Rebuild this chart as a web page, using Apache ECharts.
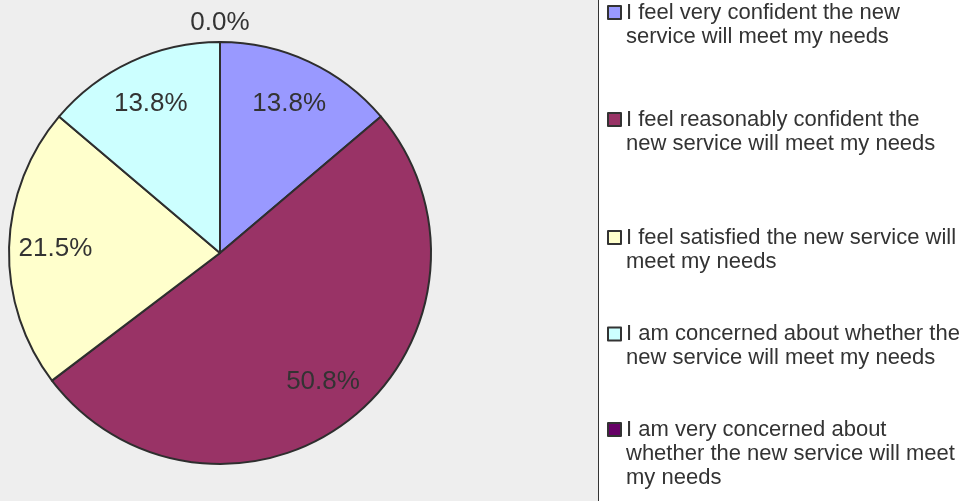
<!DOCTYPE html>
<html>
<head>
<meta charset="utf-8">
<script src="https://cdn.jsdelivr.net/npm/echarts@6/dist/echarts.min.js"></script>
<style>
  html, body { margin: 0; padding: 0; background: #ffffff; }
  #chart { width: 972px; height: 501px; }
</style>
</head>
<body>
<div id="chart"></div>
<script>
// Survey answers, in slice order (clockwise from 12 o'clock)
const categories = [
  'I feel very confident the new service will meet my needs',
  'I feel reasonably confident the new service will meet my needs',
  'I feel satisfied the new service will meet my needs',
  'I am concerned about whether the new service will meet my needs',
  'I am very concerned about whether the new service will meet my needs'
];
// Wrapped legend text, one list of lines per answer
const legendLines = [
  ['I feel very confident the new', 'service will meet my needs'],
  ['I feel reasonably confident the', 'new service will meet my needs'],
  ['I feel satisfied the new service will', 'meet my needs'],
  ['I am concerned about whether the', 'new service will meet my needs'],
  ['I am very concerned about', 'whether the new service will meet', 'my needs']
];
// Share of responses, percent
const shares = [13.8, 50.8, 21.5, 13.8, 0.0];
const sliceColors = ['#9999FF', '#993366', '#FFFFCC', '#CCFFFF', '#660066'];

// Layout
const FONT = 'Liberation Sans, Arial, sans-serif';
const CX = 220, CY = 253, R = 211;
const LINE_H = 24;
const legendCenters = [12.5, 119.5, 237.5, 334, 429.5]; // centre of each item's first line

const chart = echarts.init(document.getElementById('chart'), null, { renderer: 'canvas' });

// The legend centres its text on the swatch; leading blank lines shift the
// block down so the swatch lines up with the first line of text.
const legends = categories.map((name, i) => {
  const n = legendLines[i].length;
  const blockH = (2 * n - 1) * LINE_H;
  return {
    data: [name],
    left: 607,
    top: legendCenters[i] - blockH / 2,
    orient: 'vertical',
    padding: 0,
    itemWidth: 13,
    itemHeight: 13,
    itemGap: 0,
    icon: 'rect',
    selectedMode: false,
    itemStyle: { borderColor: '#333333', borderWidth: 2 },
    formatter: () => '\n'.repeat(n - 1) + legendLines[i].join('\n'),
    textStyle: {
      fontFamily: FONT,
      fontSize: 22,
      color: '#333333',
      lineHeight: LINE_H
    }
  };
});

chart.setOption({
  animation: false,
  backgroundColor: '#ffffff',
  graphic: [
    {
      type: 'rect', z: -10, silent: true,
      shape: { x: 0, y: 0, width: 598, height: 501 },
      style: { fill: '#EEEEEE' }
    },
    {
      type: 'line', z: -9, silent: true,
      shape: { x1: 598.5, y1: 0, x2: 598.5, y2: 501 },
      style: { stroke: '#333333', lineWidth: 1 }
    }
  ],
  legend: legends,
  series: [{
    type: 'pie',
    center: [CX, CY],
    radius: R,
    startAngle: 90,
    clockwise: true,
    avoidLabelOverlap: false,
    stillShowZeroSum: true,
    data: categories.map((name, i) => ({
      name: name,
      value: shares[i],
      itemStyle: { color: sliceColors[i] }
    })),
    itemStyle: { borderColor: '#2e2e2e', borderWidth: 2 },
    label: {
      show: true,
      position: 'inside',
      formatter: (p) => p.value.toFixed(1) + '%',
      fontFamily: FONT,
      fontSize: 26,
      color: '#333333'
    },
    labelLine: { show: false },
    // push labels out along each slice's mid-angle; empty slices sit just past the rim
    labelLayout: function (p) {
      const r = p.labelRect;
      const lx = r.x + r.width / 2, ly = r.y + r.height / 2;
      const dx = lx - CX, dy = ly - CY;
      const d = Math.hypot(dx, dy) || 1;
      const dist = shares[p.dataIndex] === 0 ? R + 19 : R * 0.78;
      return {
        x: CX + dx / d * dist,
        y: CY + dy / d * dist,
        align: 'center',
        verticalAlign: 'middle'
      };
    },
    emphasis: { disabled: true }
  }]
});
</script>
</body>
</html>
